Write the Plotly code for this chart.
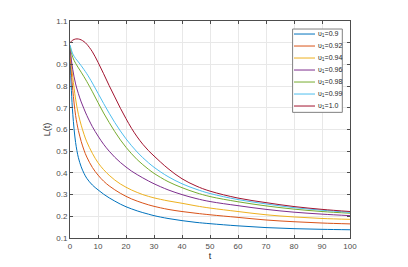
import plotly.graph_objects as go

t_vals = [0, 0.5, 1, 2, 3, 4, 5, 6, 8, 10, 12, 14, 16, 18, 20, 22, 24, 26, 28, 30, 35, 40, 45, 50, 60, 70, 80, 90, 100]

L_090 = [0.95, 0.78, 0.67, 0.54, 0.47, 0.428, 0.398, 0.375, 0.344, 0.322, 0.302, 0.285, 0.270, 0.256, 0.244, 0.234, 0.225, 0.217, 0.210, 0.203, 0.190, 0.180, 0.172, 0.166, 0.156, 0.148, 0.143, 0.140, 0.138]
L_092 = [0.96, 0.86, 0.78, 0.665, 0.595, 0.545, 0.505, 0.473, 0.425, 0.390, 0.362, 0.340, 0.322, 0.306, 0.292, 0.280, 0.270, 0.261, 0.253, 0.246, 0.232, 0.222, 0.214, 0.207, 0.195, 0.183, 0.175, 0.169, 0.165]
L_094 = [0.97, 0.90, 0.84, 0.74, 0.67, 0.62, 0.578, 0.543, 0.49, 0.447, 0.415, 0.389, 0.367, 0.349, 0.334, 0.321, 0.310, 0.300, 0.292, 0.285, 0.271, 0.260, 0.248, 0.238, 0.222, 0.207, 0.197, 0.190, 0.186]
L_096 = [0.975, 0.92, 0.875, 0.81, 0.765, 0.727, 0.695, 0.665, 0.613, 0.570, 0.532, 0.500, 0.472, 0.448, 0.427, 0.408, 0.392, 0.377, 0.363, 0.350, 0.322, 0.300, 0.282, 0.268, 0.249, 0.232, 0.219, 0.210, 0.203]
L_098 = [0.985, 0.955, 0.932, 0.905, 0.884, 0.864, 0.843, 0.821, 0.774, 0.724, 0.676, 0.632, 0.590, 0.552, 0.518, 0.488, 0.461, 0.438, 0.417, 0.398, 0.360, 0.332, 0.309, 0.291, 0.267, 0.248, 0.233, 0.222, 0.214]
L_099 = [0.99, 0.967, 0.948, 0.927, 0.911, 0.894, 0.876, 0.857, 0.814, 0.767, 0.720, 0.675, 0.632, 0.593, 0.557, 0.525, 0.496, 0.470, 0.447, 0.426, 0.383, 0.350, 0.325, 0.305, 0.277, 0.257, 0.240, 0.228, 0.218]
L_100 = [1.0, 1.007, 1.012, 1.017, 1.017, 1.013, 1.005, 0.993, 0.958, 0.910, 0.857, 0.802, 0.750, 0.698, 0.650, 0.605, 0.566, 0.532, 0.503, 0.478, 0.420, 0.373, 0.340, 0.316, 0.284, 0.263, 0.245, 0.232, 0.222]

labels = ["υ<sub>1</sub>=0.9", "υ<sub>1</sub>=0.92", "υ<sub>1</sub>=0.94", "υ<sub>1</sub>=0.96",
          "υ<sub>1</sub>=0.98", "υ<sub>1</sub>=0.99", "υ<sub>1</sub>=1.0"]
series = [L_090, L_092, L_094, L_096, L_098, L_099, L_100]
colors = ["#0072BD", "#D95319", "#EDB120", "#7E2F8E", "#77AC30", "#4DBEEE", "#A2142F"]

x_ticks = [0, 10, 20, 30, 40, 50, 60, 70, 80, 90, 100]
y_ticks = [0.1, 0.2, 0.3, 0.4, 0.5, 0.6, 0.7, 0.8, 0.9, 1.0, 1.1]
y_ticktext = ["0.1", "0.2", "0.3", "0.4", "0.5", "0.6", "0.7", "0.8", "0.9", "1", "1.1"]

fig = go.Figure()
for name, ys, c in zip(labels, series, colors):
    fig.add_trace(go.Scatter(x=t_vals, y=ys, mode="lines", name=name, showlegend=False,
                             line=dict(color=c, width=1, shape="spline", smoothing=1.0)))

axis_common = dict(showline=True, linecolor="#4d4d4d", linewidth=1, mirror="ticks",
                   ticks="inside", ticklen=3, tickcolor="#4d4d4d", automargin=False,
                   showgrid=True, gridcolor="#e8e8e8", gridwidth=1, zeroline=False,
                   tickfont=dict(family="Liberation Sans, Arial", size=8, color="#4d4d4d"))

# legend box (drawn in paper coordinates of the plot area)
leg_x0, leg_x1, leg_y0, leg_y1 = 0.795, 0.9725, 0.579, 0.963
line_x0, line_x1, text_x = 0.80, 0.875, 0.879
row0, row_step = 0.940, 0.0553

shapes = [dict(type="rect", xref="paper", yref="paper", x0=leg_x0, x1=leg_x1, y0=leg_y0, y1=leg_y1,
               line=dict(color="#808080", width=1), fillcolor="white", layer="above")]
annotations = []
for i, (name, c) in enumerate(zip(labels, colors)):
    yy = row0 - i * row_step
    shapes.append(dict(type="line", xref="paper", yref="paper", x0=line_x0, x1=line_x1, y0=yy, y1=yy,
                       line=dict(color=c, width=1), layer="above"))
    annotations.append(dict(xref="paper", yref="paper", x=text_x, y=yy, text=name, showarrow=False,
                            xanchor="left", yanchor="middle",
                            font=dict(family="Liberation Sans, Arial", size=7, color="#262626")))

# page body has an 8px default margin, so the figure is sized/offset to compensate
fig.update_layout(
    width=400, height=259,
    margin=dict(l=62, r=58, t=13, b=29),
    paper_bgcolor="white", plot_bgcolor="white",
    font=dict(family="Liberation Sans, Arial", size=8, color="#262626"),
    xaxis=dict(range=[0, 100], tickvals=x_ticks, title=dict(text="t", standoff=3,
               font=dict(size=9, color="#262626")), **axis_common),
    yaxis=dict(range=[0.1, 1.1], tickvals=y_ticks, ticktext=y_ticktext,
               title=dict(text="L(t)", standoff=4, font=dict(size=9, color="#262626")), **axis_common),
    shapes=shapes,
    annotations=annotations,
    showlegend=False,
)

fig.write_html("out.html")
